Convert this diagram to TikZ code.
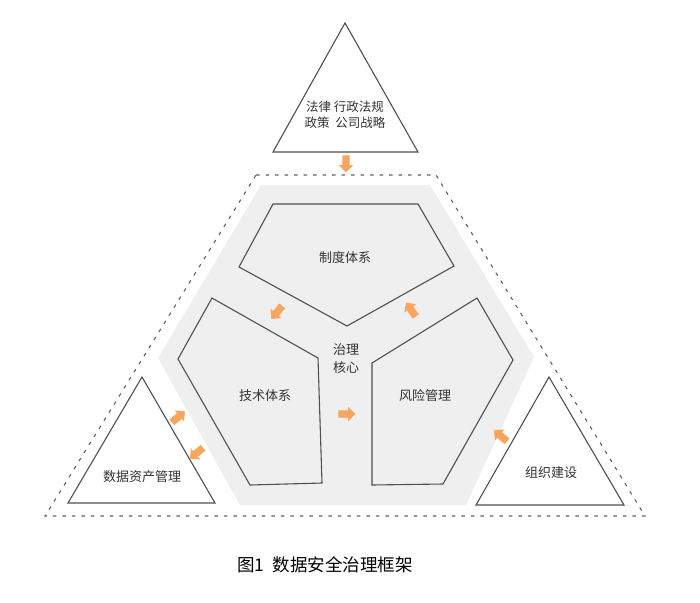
\documentclass[tikz,border=0pt]{standalone}
\usepackage{fontspec}
\setmainfont{Noto Sans CJK SC}
\usetikzlibrary{shapes.arrows}
\definecolor{arrowc}{HTML}{F9A55E}
\definecolor{hexgray}{HTML}{EFEFEF}
\definecolor{linec}{HTML}{505050}
\definecolor{txtc}{HTML}{333333}
\tikzset{
  shapeline/.style={draw=linec, line width=1.1pt, line join=miter},
  dashline/.style={draw=linec!90, line width=1.1pt, dash pattern=on 3.5pt off 6pt},
  farrow/.style={single arrow, fill=arrowc, draw=none, inner sep=3.5pt,
    minimum width=14pt, minimum height=17pt, single arrow head extend=3.5pt},
  lbl/.style={text=txtc, font=\fontsize{13}{17}\selectfont, inner sep=0pt, align=center},
}
\begin{document}
\begin{tikzpicture}[x=1pt,y=-1pt]
\useasboundingbox (0,0) rectangle (700,602);
\fill[white] (0,0) rectangle (700,602);
% outer dashed boundary
\draw[dashline] (256,175) -- (436,175) -- (645,516) -- (45,516) -- cycle;
% gray hexagon
\fill[hexgray] (261,185) -- (430,185) -- (534,357) -- (466,505) -- (240,505) -- (158,358) -- cycle;
% pentagons
\draw[shapeline] (273,204) -- (418,204) -- (454,266) -- (347,326) -- (239,267) -- cycle;
\draw[shapeline] (212,298) -- (318,358) -- (322,483) -- (250,485) -- (178,359) -- cycle;
\draw[shapeline] (477,298) -- (513,360) -- (443,484) -- (372,485) -- (372,363) -- cycle;
% triangles
\draw[shapeline, fill=white] (345,23) -- (418,152) -- (273,152) -- cycle;
\draw[shapeline, fill=white] (142,377) -- (215,503) -- (68,503) -- cycle;
\draw[shapeline, fill=white] (549,377) -- (624,505) -- (476,505) -- cycle;
% labels
\node[lbl, font=\fontsize{12.5}{16}\selectfont] (law) at (345,115) {法律 行政法规\\政策\ \ 公司战略};
\node[lbl] (zhidu) at (345,258) {制度体系};
\node[lbl] (jishu) at (265,396) {技术体系};
\node[lbl] (fengxian) at (425,396) {风险管理};
\node[lbl, font=\fontsize{13}{18}\selectfont] (core) at (346,359) {治理\\核心};
\node[lbl] (asset) at (142,477) {数据资产管理};
\node[lbl] (org) at (551,473) {组织建设};
% arrows
\node[farrow, rotate=-90] (a1) at (346,162) {};
\node[farrow, rotate=-130] (a2) at (278,311) {};
\node[farrow, rotate=125] (a3) at (412,311) {};
\node[farrow, rotate=0] (a4) at (345,414) {};
\node[farrow, rotate=40] (a5) at (177,418) {};
\node[farrow, rotate=-140] (a6) at (198,452) {};
\node[farrow, rotate=140] (a7) at (502,437) {};
% caption
\node[text=black, font=\fontsize{17.5}{20}\selectfont, inner sep=0pt] (cap) at (325,565) {图1\ \ 数据安全治理框架};
\end{tikzpicture}
\end{document}
